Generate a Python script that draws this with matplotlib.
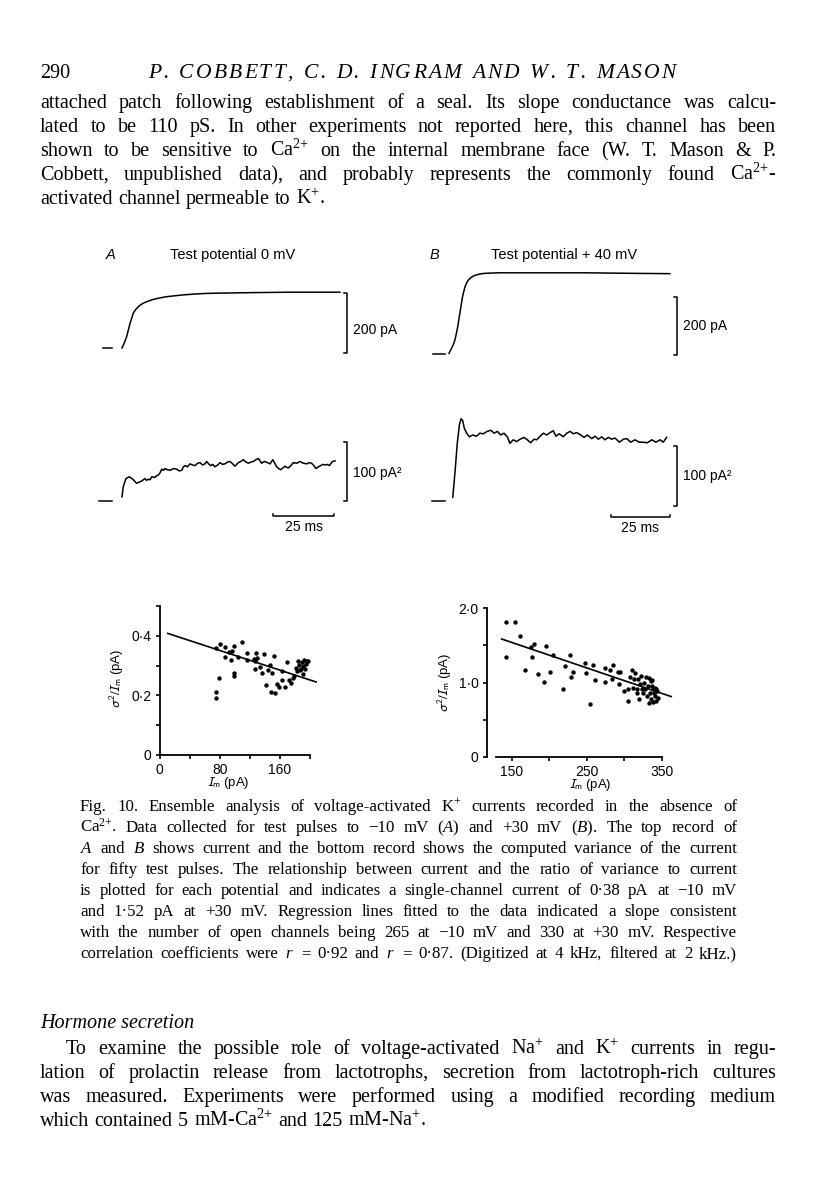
import numpy as np
import matplotlib
matplotlib.use('Agg')
import matplotlib.pyplot as plt

plt.rcParams['font.family'] = 'Liberation Sans'
plt.rcParams['mathtext.fontset'] = 'custom'
plt.rcParams['mathtext.rm'] = 'Liberation Serif'
plt.rcParams['mathtext.it'] = 'Liberation Serif:italic'
plt.rcParams['mathtext.bf'] = 'Liberation Serif:bold'

# ---- page text ----
page_no = "290"
running_head = "P. COBBETT, C. D. INGRAM AND W. T. MASON"
para1 = [
    "attached patch following establishment of a seal. Its slope conductance was calcu-",
    "lated to be 110 pS. In other experiments not reported here, this channel has been",
    "shown to be sensitive to Ca$^{2{+}}$ on the internal membrane face (W. T. Mason & P.",
    "Cobbett, unpublished data), and probably represents the commonly found Ca$^{2{+}}$-",
    "activated channel permeable to K$^{+}$.",
]
caption = [
    "Fig. 10. Ensemble analysis of voltage-activated K$^{+}$ currents recorded in the absence of",
    "Ca$^{2{+}}$. Data collected for test pulses to \u221210 mV ($A$) and +30 mV ($B$). The top record of",
    "$A$ and $B$ shows current and the bottom record shows the computed variance of the current",
    "for fifty test pulses. The relationship between current and the ratio of variance to current",
    "is plotted for each potential and indicates a single-channel current of 0\u00b738 pA at \u221210 mV",
    "and 1\u00b752 pA at +30 mV. Regression lines fitted to the data indicated a slope consistent",
    "with the number of open channels being 265 at \u221210 mV and 330 at +30 mV. Respective",
    "correlation coefficients were $r$ = 0\u00b792 and $r$ = 0\u00b787. (Digitized at 4 kHz, filtered at 2 kHz.)",
]
heading = "Hormone secretion"
para2 = [
    "To examine the possible role of voltage-activated Na$^{+}$ and K$^{+}$ currents in regu-",
    "lation of prolactin release from lactotrophs, secretion from lactotroph-rich cultures",
    "was measured. Experiments were performed using a modified recording medium",
    "which contained 5 mM-Ca$^{2{+}}$ and 125 mM-Na$^{+}$.",
]
title_a = "Test potential 0 mV"
title_b = "Test potential + 40 mV"

# ---- traces (time in ms, current in pA, variance in pA^2) ----
cur_a_t = [0, 1.0, 1.9, 2.6, 3.3, 4.0, 4.6, 5.6, 6.7, 8.0, 9.4, 11.0, 12.8, 15.5, 18.3,
           21.5, 25.1, 30.0, 34.7, 41.0, 48.4, 58.0, 68.9, 80.0, 89.3]
cur_a = [0, 18, 38, 60, 82, 100, 116, 128, 138, 146, 152, 157, 162, 167, 171,
         174, 177, 180, 182, 183, 184, 185, 186, 186, 186]

var_a_t = [0.0, 0.5, 1.6, 3.0, 4.4, 6.0, 7.0, 8.1, 9.4, 10.1,
           10.8, 11.5, 12.2, 13.5, 14.2, 14.9, 15.6, 16.3, 17.0, 17.6,
           18.6, 19.7, 21.0, 22.4, 23.5, 24.5, 25.2, 25.8, 26.8, 27.9,
           28.9, 29.9, 31.0, 32.0, 33.0, 34.0, 34.7, 35.5, 36.3, 37.2,
           38.1, 39.2, 40.2, 41.2, 42.2, 43.3, 44.3, 45.3, 46.3, 47.0,
           47.7, 48.7, 49.7, 50.8, 51.8, 52.8, 53.8, 54.9, 55.9, 56.6,
           57.2, 57.9, 58.6, 59.6, 60.7, 61.3, 61.8, 62.6, 63.4, 64.2,
           65.0, 65.9, 66.8, 67.5, 68.2, 69.2, 70.2, 71.6, 73.0, 74.3,
           75.7, 76.7, 77.7, 78.6, 79.5, 80.5, 81.4, 82.3, 83.2, 84.1,
           85.0, 85.7, 86.3, 87.3]
var_a = [7, 24, 38, 41, 37, 30, 32, 34, 38, 35,
         37, 36, 41, 40, 43, 44, 48, 54, 52, 55,
         53, 52, 55, 54, 51, 52, 58, 60, 58, 63,
         61, 60, 64, 65, 61, 63, 67, 63, 60, 62,
         58, 61, 65, 62, 63, 66, 67, 63, 59, 62,
         65, 67, 70, 66, 64, 66, 67, 70, 72, 68,
         64, 66, 67, 65, 63, 67, 70, 64, 58, 55,
         53, 56, 59, 57, 56, 60, 65, 64, 67, 64,
         63, 65, 64, 60, 55, 58, 60, 62, 61, 62,
         60, 64, 67, 68]

cur_b_t = [0, 1.1, 1.8, 2.5, 3.1, 3.7, 4.2, 4.7, 5.2, 5.6, 6.2, 6.8, 7.5, 8.2, 9.2,
           10.3, 11.7, 13.1, 15.0, 17.4, 21.0, 25.8, 35.0, 47.0, 58.0, 68.2, 80.0, 93.6]
cur_b = [2, 20, 32, 48, 70, 94, 120, 146, 170, 192, 214, 232, 246, 255, 263,
         269, 273, 276, 278, 279, 280, 280, 280, 280, 280, 279, 278, 277]

var_b_t = [1.6, 2.5, 3.5, 4.4, 5.1, 5.8, 6.5, 7.5, 8.6, 10.0,
           11.7, 13.1, 14.5, 16.2, 17.7, 19.1, 20.5, 21.9, 23.3, 24.7,
           25.8, 27.2, 28.7, 30.1, 31.8, 33.2, 34.6, 36.0, 37.2, 38.6,
           40.0, 41.4, 42.8, 44.2, 45.3, 46.7, 48.4, 49.9, 51.3, 52.7,
           54.1, 55.8, 57.2, 58.6, 60.5, 61.9, 63.3, 64.7, 66.1, 67.5,
           68.9, 70.3, 72.2, 73.9, 75.3, 77.0, 78.8, 80.6, 82.3, 84.0,
           85.9, 87.7, 89.4, 90.8, 92.2]
var_b = [6, 46, 96, 127, 137, 134, 121, 113, 107, 110,
         108, 113, 112, 116, 118, 113, 116, 110, 113, 107,
         96, 102, 99, 103, 106, 102, 97, 103, 102, 108,
         113, 110, 114, 117, 108, 112, 107, 113, 116, 112,
         114, 110, 106, 110, 104, 108, 103, 107, 102, 106,
         103, 105, 98, 103, 104, 98, 102, 98, 98, 97,
         102, 98, 102, 98, 106]

# ---- scatter: Im (pA) vs variance/Im (pA) ----
a_im = [74.7, 80.0, 87.1, 92.4, 96.9, 75.6, 74.7, 79.1, 86.7, 95.6,
        98.7, 98.7, 98.7, 103.6, 109.8, 115.6, 115.6, 126.7, 127.6, 125.3,
        128.9, 126.7, 133.3, 135.6, 138.7, 141.3, 144.4, 146.7, 148.9, 147.6,
        152.9, 152.0, 155.6, 159.1, 162.2, 163.1, 166.7, 169.8, 172.4, 174.2,
        176.9, 178.7, 181.3, 183.6, 185.8, 187.6, 188.9, 190.2, 192.0, 193.3,
        194.7, 196.4, 197.8, 191.1, 186.7, 182.2]
a_ratio = [0.358, 0.372, 0.361, 0.347, 0.350, 0.213, 0.192, 0.260, 0.330, 0.319,
           0.366, 0.276, 0.265, 0.330, 0.378, 0.341, 0.319, 0.317, 0.341, 0.322,
           0.324, 0.290, 0.294, 0.276, 0.338, 0.235, 0.285, 0.303, 0.276, 0.211,
           0.209, 0.332, 0.238, 0.229, 0.282, 0.252, 0.229, 0.311, 0.252, 0.243,
           0.257, 0.265, 0.293, 0.314, 0.302, 0.290, 0.311, 0.299, 0.319, 0.289,
           0.307, 0.314, 0.317, 0.272, 0.285, 0.283]
a_fit_x = [11, 208]
a_fit_y = [0.408, 0.245]

b_im = [142.9, 154.2, 161.7, 142.9, 168.0, 175.1, 179.7, 177.6, 184.7, 196.0,
        193.1, 201.5, 204.4, 218.2, 221.1, 227.8, 228.7, 232.0, 248.3, 249.6,
        253.8, 258.8, 261.3, 273.9, 274.7, 281.0, 284.0, 285.3, 291.4, 294.8,
        292.7, 299.8, 304.8, 305.6, 308.2, 310.3, 311.5, 313.2, 314.4, 316.5,
        317.4, 318.6, 319.9, 321.5, 322.8, 324.1, 324.9, 327.0, 329.1, 328.2,
        330.3, 331.2, 332.4, 333.3, 334.1, 335.4, 336.6, 337.4, 338.3, 339.5,
        340.8, 338.3, 341.6, 342.5, 343.7, 345.0, 342.5, 335.4]
b_ratio = [1.822, 1.822, 1.622, 1.342, 1.164, 1.476, 1.520, 1.342, 1.120, 1.489,
           1.009, 1.142, 1.378, 0.911, 1.222, 1.378, 1.080, 1.147, 1.267, 1.124,
           0.711, 1.240, 1.031, 1.200, 1.009, 1.169, 1.044, 1.231, 1.142, 1.142,
           0.978, 0.889, 0.756, 0.911, 1.080, 1.164, 0.933, 1.044, 1.133, 0.920,
           0.867, 1.044, 0.778, 0.978, 1.089, 0.911, 0.867, 1.000, 1.080, 0.911,
           0.822, 0.956, 0.733, 1.067, 0.867, 0.778, 0.956, 1.036, 0.742, 0.867,
           0.933, 0.911, 0.822, 0.920, 0.889, 0.800, 0.756, 1.022]
b_fit_x = [136.6, 362.6]
b_fit_y = [1.587, 0.813]

W, H = 816, 1200
fig = plt.figure(figsize=(W / 100, H / 100), dpi=100)
fig.patch.set_facecolor('white')
renderer = fig.canvas.get_renderer()


def fx(x):
    return x / W


def fy(y):
    return 1 - y / H


def justify(line, x0, x1, y, size, style='normal', fill=True):
    # place words one by one so the line fills x0..x1 like the printed page
    words = line.split(' ')
    texts = [fig.text(0, fy(y), w, fontsize=size, style=style,
                      family='Liberation Serif', va='baseline') for w in words]
    widths = [t.get_window_extent(renderer).width for t in texts]
    if fill and len(words) > 1:
        gap = (x1 - x0 - sum(widths)) / (len(words) - 1)
    else:
        gap = size * 100 / 72 * 0.27
    x = x0
    for t, w in zip(texts, widths):
        t.set_x(fx(x))
        x += w + gap


def tracked(line, x0, x1, y, size, style='normal'):
    # letter-spaced line (running head)
    space = size * 100 / 72 * 0.3
    texts, widths = [], []
    for ch in line:
        t = fig.text(0, fy(y), ch, fontsize=size, style=style,
                     family='Liberation Serif', va='baseline')
        texts.append(t)
        widths.append(space if ch == ' ' else t.get_window_extent(renderer).width)
    extra = (x1 - x0 - sum(widths)) / (len(line) - 1)
    x = x0
    for t, w in zip(texts, widths):
        t.set_x(fx(x))
        x += w + extra


def frame(xlim, ylim, x0, y0, sx, sy):
    # axes whose data origin sits at pixel (x0, y0), sx / sy pixels per unit
    left = x0 + xlim[0] * sx
    right = x0 + xlim[1] * sx
    bottom = y0 - ylim[0] * sy
    top = y0 - ylim[1] * sy
    ax = fig.add_axes([fx(left), fy(bottom), (right - left) / W, (bottom - top) / H])
    ax.set_xlim(xlim)
    ax.set_ylim(ylim)
    ax.patch.set_visible(False)
    return ax


# ---- page text ----
body_x0, body_x1 = 40, 776
body_size = 14.5
cap_size = 12.2
fig.text(fx(body_x0), fy(78), page_no, fontsize=body_size,
         family='Liberation Serif', va='baseline')
tracked(running_head, 148, 676, 78, 15.5, style='italic')
for i, line in enumerate(para1):
    justify(line, body_x0, body_x1, 108 + 24 * i, body_size, fill=i < len(para1) - 1)

for i, line in enumerate(caption):
    justify(line, 80, 737, 811 + 21 * i, cap_size)

fig.text(fx(body_x0), fy(1028), heading, fontsize=body_size, style='italic',
         family='Liberation Serif', va='baseline')
for i, line in enumerate(para2):
    x0 = body_x0 + 26 if i == 0 else body_x0
    justify(line, x0, body_x1, 1054 + 24 * i, body_size, fill=i < len(para2) - 1)

# ---- panel titles ----
fig.text(fx(106), fy(255), 'A', fontsize=10.5, style='italic', va='center')
fig.text(fx(170), fy(255), title_a, fontsize=10.5, va='center')
fig.text(fx(430), fy(255), 'B', fontsize=10.5, style='italic', va='center')
fig.text(fx(491), fy(255), title_b, fontsize=10.5, va='center')

lw = 1.1
lab = 10


def vbar(ax, t, y0, length, tick, label, ylab):
    ax.plot([t - tick, t, t, t - tick], [y0, y0, y0 + length, y0 + length],
            'k-', lw=lw, clip_on=False)
    ax.text(t + 2.6, ylab, label, fontsize=lab, va='center')


def tbar(ax, t0, y, length, tick, label, ylab):
    ax.plot([t0, t0, t0 + length, t0 + length], [y + tick, y, y, y + tick],
            'k-', lw=lw, clip_on=False)
    ax.text(t0 + length / 2, ylab, label, fontsize=lab, ha='center', va='center')


# A, current
ax = frame((-12, 100), (-30, 200), 122, 348, 2.44, 0.30)
ax.axis('off')
ax.plot(cur_a_t, cur_a, 'k-', lw=lw)
ax.plot([-7.7, -4.2], [0, 0], 'k-', lw=lw)
vbar(ax, 92.2, -15, 200, 1.3, '200 pA', 60)

# A, variance
ax = frame((-12, 100), (-35, 110), 122, 501, 2.44, 0.59)
ax.axis('off')
ax.plot(var_a_t, var_a, 'k-', lw=lw)
ax.plot([-9.3, -4.2], [0, 0], 'k-', lw=lw)
vbar(ax, 92.2, 0, 100, 1.3, '100 pA\u00b2', 47)
tbar(ax, 61.9, -25.4, 25, 4, '25 ms', -44)

# B, current
ax = frame((-12, 100), (-30, 300), 449, 354, 2.36, 0.29)
ax.axis('off')
ax.plot(cur_b_t, cur_b, 'k-', lw=lw)
ax.plot([-6.6, -1.7], [0, 0], 'k-', lw=lw)
vbar(ax, 96.5, -3.5, 200, 1.3, '200 pA', 96)

# B, variance
ax = frame((-12, 100), (-35, 150), 449, 501, 2.36, 0.60)
ax.axis('off')
ax.plot(var_b_t, var_b, 'k-', lw=lw)
ax.plot([-7.3, -1.7], [0, 0], 'k-', lw=lw)
vbar(ax, 96.5, -8, 100, 1.3, '100 pA\u00b2', 42)
tbar(ax, 68.6, -26.7, 25, 4, '25 ms', -45)

# ---- scatter plots ----
ylab_txt = r'$\sigma^2/I_{\rm m}$ (pA)'
xlab_txt = r'$I_{\rm m}$ (pA)'


def style_axes(ax, xticks, xlabels, yticks, ylabels):
    for s in ('top', 'right'):
        ax.spines[s].set_visible(False)
    for s in ('left', 'bottom'):
        ax.spines[s].set_linewidth(1.3)
    ax.set_xticks(xticks)
    ax.set_xticklabels(xlabels)
    ax.set_yticks(yticks)
    ax.set_yticklabels(ylabels)
    ax.tick_params(direction='out', length=3, width=1.2, labelsize=10, pad=3)


ax = frame((0, 200), (0, 0.5), 159.5, 755, 0.753, 298)
ax.scatter(a_im, a_ratio, s=10, c='k', lw=0, clip_on=False)
ax.plot(a_fit_x, a_fit_y, 'k-', lw=1.2, clip_on=False)
style_axes(ax, [0, 40, 80, 120, 160, 200], ['0', '', '80', '', '160', ''],
           [0, 0.1, 0.2, 0.3, 0.4, 0.5], ['0', '', '0\u00b72', '', '0\u00b74', ''])
fig.text(fx(117), fy(678), ylab_txt, rotation=90, ha='center', va='center',
         fontsize=9.5, math_fontfamily='stixsans')
fig.text(fx(228), fy(783), xlab_txt, ha='center', va='center',
         fontsize=9.5, math_fontfamily='stixsans')

ax = frame((129, 350), (0, 2), 399.2, 757, 0.75, 74.35)
ax.scatter(b_im, b_ratio, s=10, c='k', lw=0, clip_on=False)
ax.plot(b_fit_x, b_fit_y, 'k-', lw=1.2, clip_on=False)
style_axes(ax, [150, 200, 250, 300, 350], ['150', '', '250', '', '350'],
           [0, 0.5, 1.0, 1.5, 2.0], ['0', '', '1\u00b70', '', '2\u00b70'])
ax.spines['left'].set_position(('outward', 6.5))
fig.text(fx(445), fy(682), ylab_txt, rotation=90, ha='center', va='center',
         fontsize=9.5, math_fontfamily='stixsans')
fig.text(fx(590), fy(785), xlab_txt, ha='center', va='center',
         fontsize=9.5, math_fontfamily='stixsans')

fig.savefig('out.png', dpi=100)
